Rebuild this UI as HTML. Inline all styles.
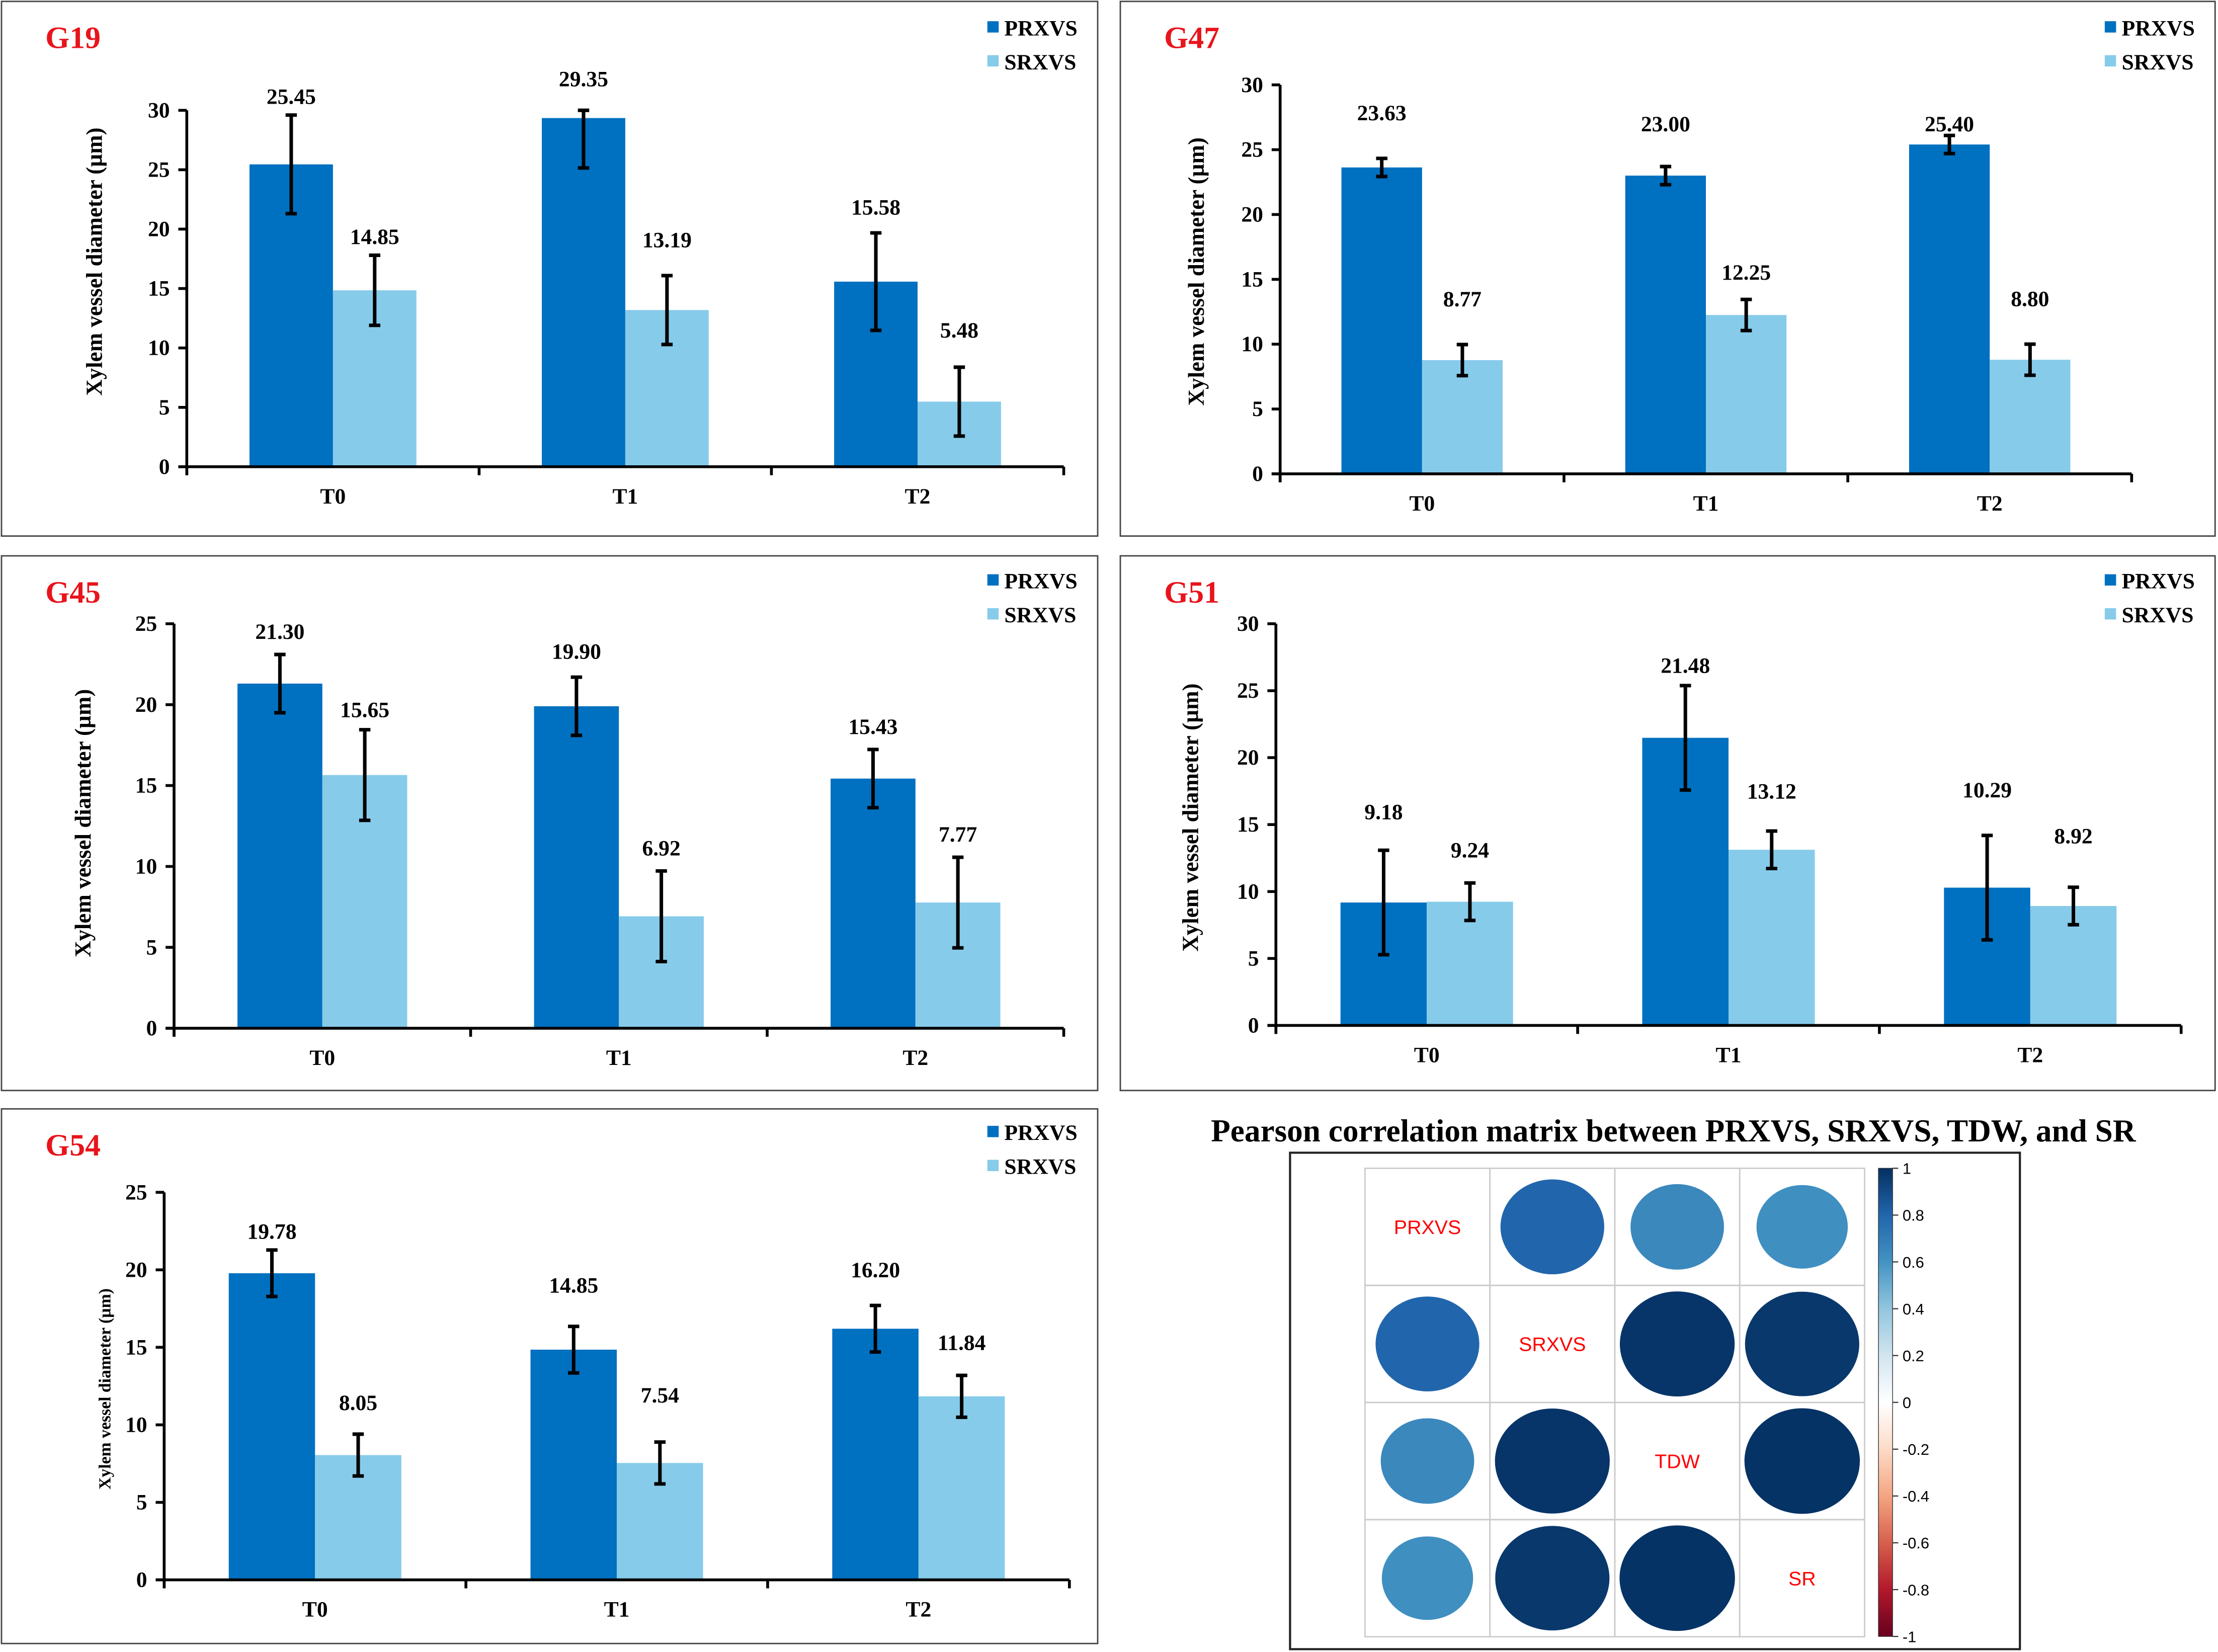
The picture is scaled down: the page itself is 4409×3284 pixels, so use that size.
<!DOCTYPE html>
<html><head><meta charset="utf-8">
<style>
html,body{margin:0;padding:0;background:#fff;}
svg{display:block;}
text{font-family:"Liberation Serif",serif;font-weight:bold;}
</style></head>
<body>
<svg id="fig" xmlns="http://www.w3.org/2000/svg" width="4409" height="3284" viewBox="0 0 1568 1168"></svg>
<script>
const categories = ["T0","T1","T2"];
const seriesNames = ["PRXVS","SRXVS"];
const g19P = [25.45,29.35,15.58], g19S = [14.85,13.19,5.48], g19PE=[4.15,4.2,4.1], g19SE=[2.95,2.9,2.9];
const g47P = [23.63,23.00,25.40], g47S = [8.77,12.25,8.80], g47PE=[0.7,0.7,0.7], g47SE=[1.2,1.2,1.2];
const g45P = [21.30,19.90,15.43], g45S = [15.65,6.92,7.77], g45PE=[1.8,1.8,1.8], g45SE=[2.8,2.8,2.8];
const g51P = [9.18,21.48,10.29], g51S = [9.24,13.12,8.92], g51PE=[3.9,3.9,3.9], g51SE=[1.4,1.4,1.4];
const g54P = [19.78,14.85,16.20], g54S = [8.05,7.54,11.84], g54PE=[1.5,1.5,1.5], g54SE=[1.35,1.35,1.35];
const ticks30 = [0,5,10,15,20,25,30];
const ticks25 = [0,5,10,15,20,25];
const corrVars = ["PRXVS","SRXVS","TDW","SR"];
const corrRow0 = [1,0.80,0.65,0.62];
const corrRow1 = [0.80,1,0.98,0.97];
const corrRow2 = [0.65,0.98,1,0.99];
const corrRow3 = [0.62,0.97,0.99,1];
const cbTicks = [1,0.8,0.6,0.4,0.2,0,-0.2,-0.4,-0.6,-0.8,-1];

const NS="http://www.w3.org/2000/svg";
const svg=document.getElementById('fig');
function mk(tag,attrs,parent,txt){const e=document.createElementNS(NS,tag);for(const k in attrs)e.setAttribute(k,attrs[k]);if(txt!==undefined)e.textContent=txt;(parent||svg).appendChild(e);return e;}

const panels=[
 {name:"G19",box:[1,1,775,378],x0:132,x1:752,y0:330,yTop:78,max:30,ticks:ticks30,P:g19P,S:g19S,PE:g19PE,SE:g19SE,bw:59,ly:20,lx:698,ytx:72,yty:185,yfs:16,lift:[-3,-3,6,9,2,10]},
 {name:"G47",box:[792,1,774,378],x0:905,x1:1507,y0:335,yTop:60,max:30,ticks:ticks30,P:g47P,S:g47S,PE:g47PE,SE:g47SE,bw:57,ly:20,lx:1488,ytx:851,yty:192,yfs:16,lift:[16,16,14,3,-8,16]},
 {name:"G45",box:[1,393,775,378],x0:123,x1:752,y0:727,yTop:441,max:25,ticks:ticks25,P:g45P,S:g45S,PE:g45PE,SE:g45SE,bw:60,ly:411,lx:698,ytx:64,yty:582,yfs:16,lift:[0,-2,2,0,0,0]},
 {name:"G51",box:[792,393,774,378],x0:902,x1:1542,y0:725,yTop:441,max:30,ticks:ticks30,P:g51P,S:g51S,PE:g51PE,SE:g51SE,bw:61,ly:411,lx:1488,ytx:847,yty:578,yfs:16,lift:[11,7,-2,12,16,20]},
 {name:"G54",box:[1,784,775,378],x0:116,x1:756,y0:1117,yTop:843,max:25,ticks:ticks25,P:g54P,S:g54S,PE:g54PE,SE:g54SE,bw:61,ly:801,lx:698,ytx:78,yty:982,yfs:12,lift:[-3,6,13,17,9,7]}
];
const cP="#0070C0", cS="#87CBEA";
panels.forEach(p=>{
  const g=mk('g',{});
  
  
  const b=mk('rect',{x:p.box[0],y:p.box[1],width:p.box[2],height:p.box[3],fill:'#fff',stroke:'#444','stroke-width':1},g);
  
  const t=mk('text',{x:p.box[0]+31,y:p.box[1]+33,fill:'#e8141c','font-size':22},g,p.name);
  
  const ys=v=>p.y0-(Math.min(v,p.max)/p.max)*(p.y0-p.yTop);
  const gw=(p.x1-p.x0)/categories.length;
  p.ticks.forEach(v=>{
    mk('line',{x1:p.x0-6,x2:p.x0,y1:ys(v),y2:ys(v),stroke:'#000','stroke-width':2},g);
    const l=mk('text',{x:p.x0-12,y:ys(v)+5,'text-anchor':'end','font-size':15.5},g,String(v));
    
  });
  categories.forEach((c,i)=>{
    const cx=p.x0+gw*(i+0.5);
    [[p.P,p.PE,cP,-1],[p.S,p.SE,cS,0]].forEach(([vals,errs,col,off],si)=>{
      const v=vals[i],e=errs[i];
      const bx=cx+off*p.bw;
      const r=mk('rect',{x:bx,y:ys(v),width:p.bw,height:p.y0-ys(v),fill:col},g);
      
      
      const mx=bx+p.bw/2;
      mk('line',{x1:mx,x2:mx,y1:ys(v+e),y2:ys(v-e),stroke:'#000','stroke-width':2.5},g);
      mk('line',{x1:mx-4,x2:mx+4,y1:ys(v+e),y2:ys(v+e),stroke:'#000','stroke-width':2.5},g);
      mk('line',{x1:mx-4,x2:mx+4,y1:ys(v-e),y2:ys(v-e),stroke:'#000','stroke-width':2.5},g);
      const vl=mk('text',{x:mx,y:ys(v+e)-11-p.lift[i*2+si],'text-anchor':'middle','font-size':15.5},g,v.toFixed(2));
      
    });
    const cl=mk('text',{x:cx,y:p.y0+26,'text-anchor':'middle','font-size':15.5},g,c);
    
  });
  for(let i=0;i<=categories.length;i++){const x=p.x0+gw*i;mk('line',{x1:x,x2:x,y1:p.y0,y2:p.y0+6,stroke:'#000','stroke-width':2},g);}
  mk('line',{x1:p.x0,x2:p.x0,y1:p.yTop,y2:p.y0+6,stroke:'#000','stroke-width':2},g);
  mk('line',{x1:p.x0-6,x2:p.x1,y1:p.y0,y2:p.y0,stroke:'#000','stroke-width':2},g);
  const yt=mk('text',{x:p.ytx,y:p.yty,'text-anchor':'middle','font-size':p.yfs,transform:`rotate(-90 ${p.ytx} ${p.yty})`},g,'Xylem vessel diameter (µm)');
  
  seriesNames.forEach((s,si)=>{
    const lg=mk('g',{},g);
    
    mk('rect',{x:p.lx,y:p.ly-5+si*24,width:8,height:8,fill:si?cS:cP},lg);
    mk('text',{x:p.lx+12,y:p.ly+5+si*24,'font-size':15.5},lg,s);
  });
});

const corr=[corrRow0,corrRow1,corrRow2,corrRow3];
const cg=mk('g',{});

const ct=mk('text',{x:1183,y:807,'text-anchor':'middle','font-size':22.5},cg,'Pearson correlation matrix between PRXVS, SRXVS, TDW, and SR');

mk('rect',{x:912,y:815,width:516,height:351,fill:'#fff',stroke:'#222','stroke-width':1.5},cg);
const gx0=965,gy0=826,cw=88.3,ch=82.8;
const stops=[[-1,[103,0,31]],[-0.8,[178,24,43]],[-0.6,[214,96,77]],[-0.4,[244,165,130]],[-0.2,[253,219,199]],[0,[255,255,255]],[0.2,[209,229,240]],[0.4,[146,197,222]],[0.6,[67,147,195]],[0.8,[33,102,172]],[1,[5,48,97]]];
function colr(v){for(let i=0;i<stops.length-1;i++){const[a,ca]=stops[i],[b,cb]=stops[i+1];if(v>=a&&v<=b){const t=(v-a)/(b-a);return 'rgb('+ca.map((x,k)=>Math.round(x+(cb[k]-x)*t)).join(',')+')';}}return '#000';}
corr.forEach((row,i)=>row.forEach((v,j)=>{
  const cx=gx0+cw*(j+0.5),cy=gy0+ch*(i+0.5);
  mk('rect',{x:gx0+cw*j,y:gy0+ch*i,width:cw,height:ch,fill:'none',stroke:'#ccc','stroke-width':1},cg);
  if(i===j){const l=mk('text',{x:cx,y:cy+5,'text-anchor':'middle','font-size':14,fill:'#f00',style:'font-family:"Liberation Sans",sans-serif;font-weight:normal'},cg,corrVars[i]);
    }
  else{const e=mk('ellipse',{cx:cx,cy:cy,rx:41*Math.sqrt(Math.abs(v)),ry:37.5*Math.sqrt(Math.abs(v)),fill:colr(v)},cg);
    }
}));
const defs=mk('defs',{});
const lgd=mk('linearGradient',{id:'cbg',x1:0,y1:1,x2:0,y2:0},defs);
stops.forEach(([v,c])=>mk('stop',{offset:((v+1)/2*100)+'%','stop-color':'rgb('+c.join(',')+')'},lgd));
const cb=mk('rect',{x:1328,y:826,width:10,height:331,fill:'url(#cbg)',stroke:'#333','stroke-width':0.5},cg);

cbTicks.forEach(v=>{
  const y=826+(1-v)/2*331;
  mk('line',{x1:1338,x2:1342,y1:y,y2:y,stroke:'#333','stroke-width':0.8},cg);
  const l=mk('text',{x:1345,y:y+4,'font-size':11,style:'font-family:"Liberation Sans",sans-serif;font-weight:normal'},cg,String(v));
  
});
</script>
</body></html>
